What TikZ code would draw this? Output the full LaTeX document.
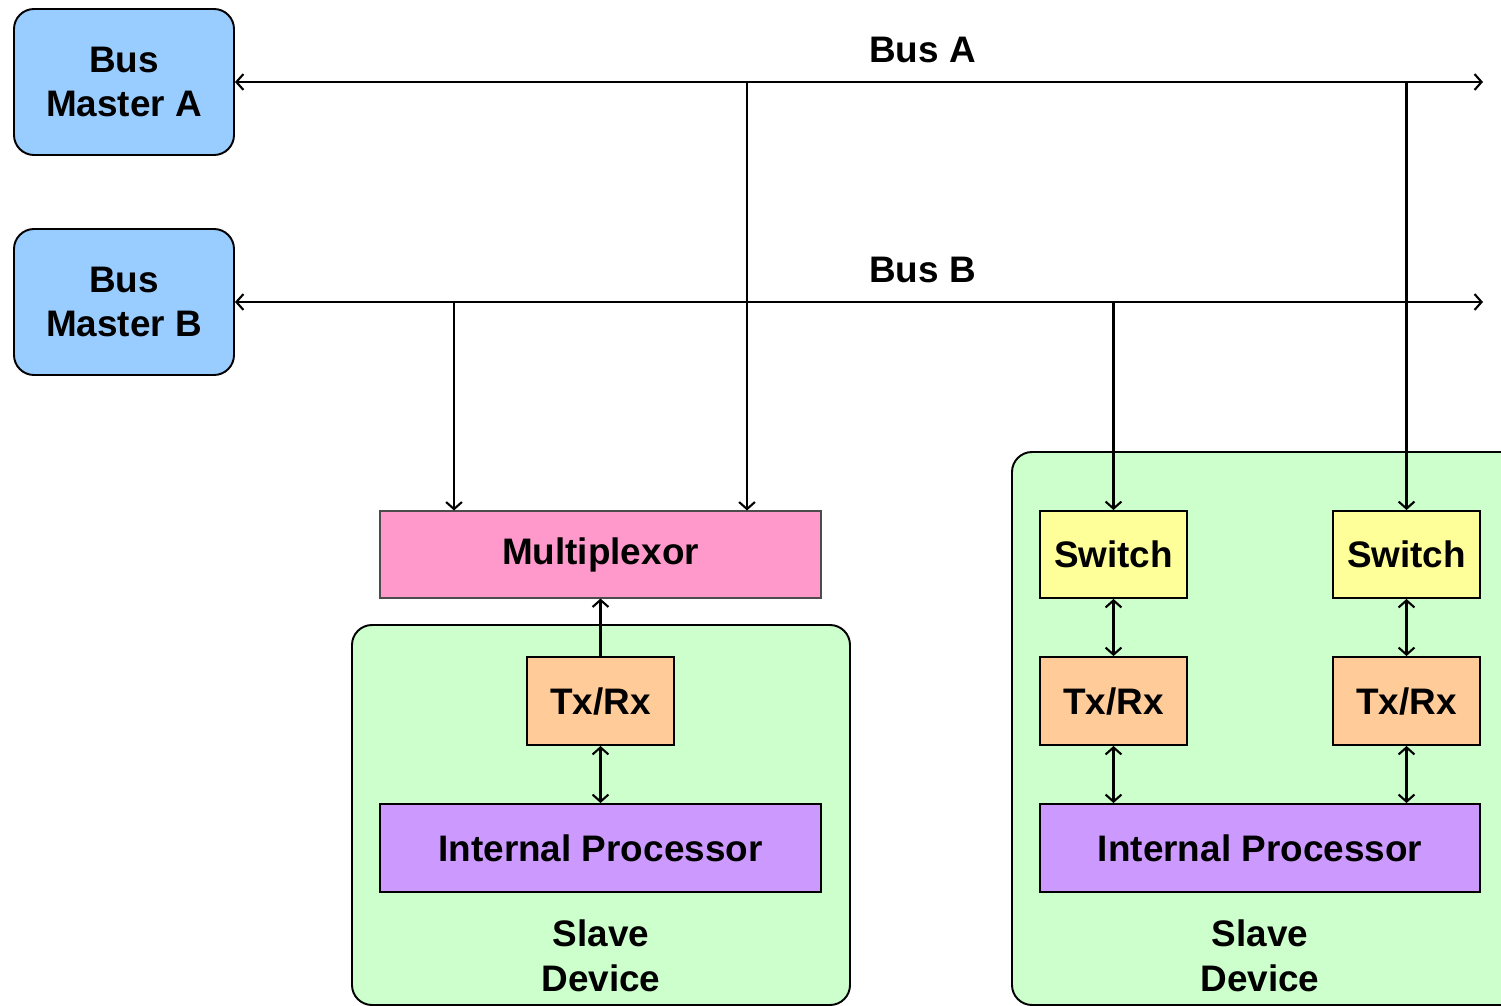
\documentclass[tikz,border=0pt]{standalone}
\usepackage{fontspec}
\setmainfont{Liberation Sans}
\usetikzlibrary{arrows.meta}
\definecolor{mastercol}{HTML}{99CCFF}
\definecolor{devcol}{HTML}{CCFFCC}
\definecolor{muxcol}{HTML}{FF99CC}
\definecolor{txcol}{HTML}{FFCC99}
\definecolor{proccol}{HTML}{CC99FF}
\definecolor{swcol}{HTML}{FFFF99}

\begin{document}
\begin{tikzpicture}[
        >={Straight Barb[length=4pt,width=9pt]},
        every node/.style={font=\fontsize{21}{25.5}\selectfont\bfseries,align=center},
        master/.style={draw,line width=1.1pt,rounded corners=0.4cm,fill=mastercol,minimum width=4.4cm,minimum height=2.92cm},
        device/.style={draw,line width=1.1pt,rounded corners=0.4cm,fill=devcol},
        block/.style={draw,line width=1.1pt,minimum height=1.76cm},
        wire/.style={line width=1.2pt}
    ]
        \useasboundingbox (0,0) rectangle (30.02,-20.12);
        %% Slave devices
        \node[device,minimum width=9.96cm,minimum height=7.6cm] (devL) at (12.02,-16.3) {};
        \node[device,minimum width=10.36cm,minimum height=11.06cm] (devR) at (25.42,-14.57) {};
        \node (slaveL) at (12.02,-19.11) {Slave\\Device};
        \node (slaveR) at (25.2,-19.11) {Slave\\Device};
        %% Bus masters
        \node[master] (BMA) at (2.48,-1.64) {Bus\\Master A};
        \node[master] (BMB) at (2.48,-6.04) {Bus\\Master B};
        %% Blocks
        \node[draw=black!70,line width=0.6pt,fill=muxcol,minimum width=8.82cm,minimum height=1.74cm] (mux) at (12.01,-11.09) {Multiplexor};
        \node[block,fill=txcol,minimum width=2.94cm] (txL) at (12.01,-14.02) {Tx/Rx};
        \node[block,fill=proccol,minimum width=8.82cm] (procL) at (12.01,-16.96) {Internal Processor};
        \node[block,fill=swcol,minimum width=2.94cm,minimum height=1.74cm] (sw1) at (22.27,-11.09) {Switch};
        \node[block,fill=swcol,minimum width=2.94cm,minimum height=1.74cm] (sw2) at (28.13,-11.09) {Switch};
        \node[block,fill=txcol,minimum width=2.94cm] (tx1) at (22.27,-14.02) {Tx/Rx};
        \node[block,fill=txcol,minimum width=2.94cm] (tx2) at (28.13,-14.02) {Tx/Rx};
        \node[block,fill=proccol,minimum width=8.8cm] (procR) at (25.2,-16.96) {Internal Processor};
        %% Buses
        \coordinate (endA) at (29.66,-1.64);
        \coordinate (endB) at (29.66,-6.04);
        \draw[wire,<->] (BMA.east) -- (endA) node[pos=0.551,above=7pt] (busA) {Bus A};
        \draw[wire,<->] (BMB.east) -- (endB) node[pos=0.551,above=7pt] (busB) {Bus B};
        %% Taps
        \coordinate (tapA) at (14.94,-1.64);
        \coordinate (tapB) at (9.08,-6.04);
        \draw[wire,->] (tapA) -- (tapA |- mux.north);
        \draw[wire,->] (tapB) -- (tapB |- mux.north);
        \draw[wire,->] (sw1.north |- endB) -- (sw1.north);
        \draw[wire,->] (sw2.north |- endA) -- (sw2.north);
        %% Inside the devices
        \draw[wire,->] (txL.north) -- (mux.south);
        \draw[wire,<->] (txL.south) -- (txL.south |- procL.north);
        \draw[wire,<->] (sw1.south) -- (tx1.north);
        \draw[wire,<->] (sw2.south) -- (tx2.north);
        \draw[wire,<->] (tx1.south) -- (tx1.south |- procR.north);
        \draw[wire,<->] (tx2.south) -- (tx2.south |- procR.north);
    \end{tikzpicture}
\end{document}
